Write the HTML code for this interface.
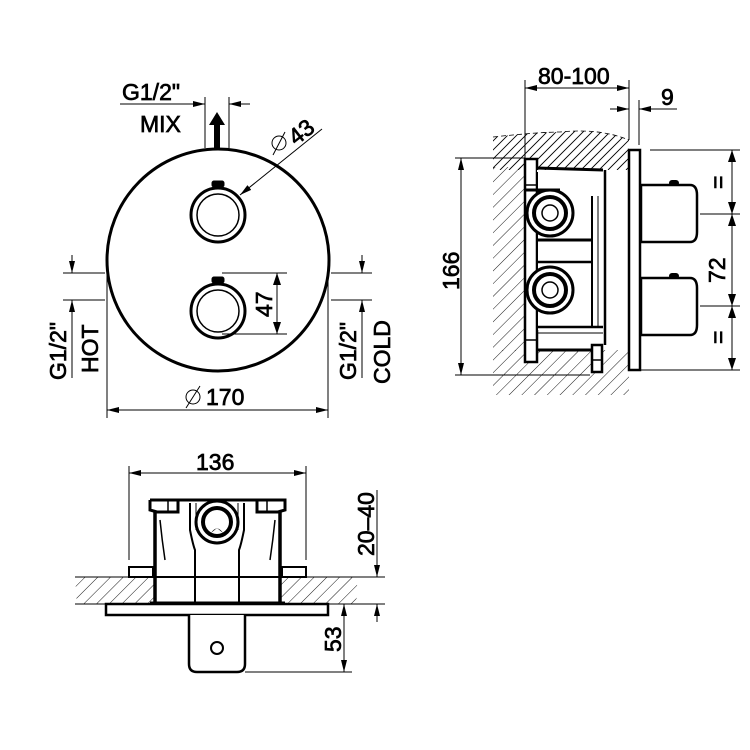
<!DOCTYPE html>
<html><head><meta charset="utf-8"><style>
html,body{margin:0;padding:0;background:#fff;}
svg{display:block}
text{font-family:"Liberation Sans",Arial,sans-serif;font-size:23px;fill:#000;stroke:#000;stroke-width:0.7px;}
</style></head><body>
<svg width="750" height="750" viewBox="0 0 750 750" xmlns="http://www.w3.org/2000/svg">
<defs>
<pattern id="h" patternUnits="userSpaceOnUse" width="9" height="9" patternTransform="rotate(45)">
<line x1="0" y1="0" x2="0" y2="9" stroke="#000" stroke-width="0.9"/>
</pattern>
<clipPath id="tb"><path d="M493,137 Q540,132 560,132 Q600,128 629,140 L629,170 L493,170 Z"/></clipPath>
<marker id="a" markerWidth="12" markerHeight="8" refX="12" refY="4" orient="auto" markerUnits="userSpaceOnUse">
<path d="M0,1 L12,4 L0,7 Z" fill="#000"/></marker>
</defs>

<!-- ============ FRONT VIEW ============ -->
<g fill="none" stroke="#000">
<circle cx="218" cy="260" r="111" stroke-width="3"/>
<circle cx="218" cy="215" r="27" stroke-width="3"/>
<circle cx="218" cy="215" r="21" stroke-width="1.5"/>
<rect x="212" y="181" width="12" height="6" rx="2" fill="#000"/>
<circle cx="218" cy="311" r="27" stroke-width="3"/>
<circle cx="218" cy="311" r="21" stroke-width="1.5"/>
<rect x="212" y="277" width="12" height="6" rx="2" fill="#000"/>
<g stroke-width="1">
<line x1="205" y1="97" x2="205" y2="148"/>
<line x1="229" y1="97" x2="229" y2="148"/>
<line x1="120" y1="104" x2="205" y2="104" marker-end="url(#a)"/>
<line x1="250" y1="104" x2="229" y2="104" marker-end="url(#a)"/>
<line x1="322" y1="129" x2="240" y2="195" marker-end="url(#a)"/>
<line x1="222" y1="273" x2="287" y2="273"/>
<line x1="222" y1="334" x2="287" y2="334"/>
<line x1="277" y1="273" x2="277" y2="334"/>
<line x1="63" y1="273" x2="105" y2="273"/>
<line x1="63" y1="300" x2="105" y2="300"/>
<line x1="72" y1="255" x2="72" y2="273" marker-end="url(#a)"/>
<line x1="72" y1="378" x2="72" y2="300" marker-end="url(#a)"/>
<line x1="331" y1="273" x2="372" y2="273"/>
<line x1="331" y1="300" x2="372" y2="300"/>
<line x1="362" y1="255" x2="362" y2="273" marker-end="url(#a)"/>
<line x1="362" y1="378" x2="362" y2="300" marker-end="url(#a)"/>
<line x1="107" y1="262" x2="107" y2="418"/>
<line x1="328" y1="262" x2="328" y2="418"/>
<line x1="128" y1="410" x2="107" y2="410" marker-end="url(#a)"/>
<line x1="128" y1="410" x2="307" y2="410"/>
<line x1="307" y1="410" x2="328" y2="410" marker-end="url(#a)"/>
<line x1="186" y1="408" x2="200" y2="386"/>
<line x1="273" y1="155" x2="285" y2="132"/>
</g>
</g>
<path d="M277,273 L273,285 L281,285Z M277,334 L273,322 L281,322Z" fill="#000"/>
<circle cx="193" cy="397" r="7" fill="none" stroke="#000" stroke-width="1"/>
<circle cx="279" cy="143" r="7" fill="none" stroke="#000" stroke-width="1"/>
<path d="M214,148 L214,125 L209,125 L217,112 L225,125 L220,125 L220,148Z" fill="#000"/>
<text x="122" y="100">G1/2"</text>
<text x="140" y="132">MIX</text>
<text x="0" y="0" transform="translate(296,146) rotate(-38)">43</text>
<text x="0" y="0" transform="translate(272,317) rotate(-90)">47</text>
<text x="206" y="405">170</text>
<text x="0" y="0" transform="translate(66,380) rotate(-90)">G1/2"</text>
<text x="0" y="0" transform="translate(98,373) rotate(-90)">HOT</text>
<text x="0" y="0" transform="translate(356,380) rotate(-90)">G1/2"</text>
<text x="0" y="0" transform="translate(390,384) rotate(-90)">COLD</text>

<!-- ============ SIDE VIEW ============ -->
<g clip-path="url(#tb)" stroke="#000" stroke-width="0.9">
<path d="M455,170 l45,-45 M464,170 l45,-45 M473,170 l45,-45 M482,170 l45,-45 M491,170 l45,-45 M500,170 l45,-45 M509,170 l45,-45 M518,170 l45,-45 M527,170 l45,-45 M536,170 l45,-45 M545,170 l45,-45 M554,170 l45,-45 M563,170 l45,-45 M572,170 l45,-45 M581,170 l45,-45 M590,170 l45,-45 M599,170 l45,-45 M608,170 l45,-45 M617,170 l45,-45 M626,170 l45,-45"/>
</g>
<rect x="493" y="167" width="44" height="184" fill="url(#h)"/>
<rect x="493" y="350" width="136" height="45" fill="url(#h)"/>
<path d="M493,137 Q540,132 560,132 Q600,128 629,140" fill="none" stroke="#000" stroke-width="0.8" stroke-dasharray="5,3"/>
<g fill="#fff" stroke="#000" stroke-width="2.5">
<rect x="629" y="150" width="11" height="220"/>
<rect x="525" y="159" width="12" height="203"/>
<rect x="537" y="170" width="66" height="160" stroke="none"/>
<rect x="592" y="345" width="10" height="27"/>
<path d="M641,185 L690,185 Q697,185 697,195 L697,232 Q697,242 690,242 L641,242Z"/>
<path d="M641,278 L690,278 Q697,278 697,288 L697,325 Q697,335 690,335 L641,335Z"/>
</g>
<g fill="none" stroke="#000">
<path d="M537,168 L603,170" stroke-width="3"/>
<line x1="525" y1="190" x2="560" y2="190" stroke-width="3"/>
<line x1="537" y1="240" x2="592" y2="240" stroke-width="3"/>
<line x1="537" y1="262" x2="592" y2="262" stroke-width="2.5"/>
<line x1="537" y1="327" x2="603" y2="327" stroke-width="2.5"/>
<line x1="537" y1="333" x2="603" y2="333" stroke-width="1"/>
<line x1="537" y1="350" x2="592" y2="350" stroke-width="3"/>
<line x1="592" y1="196" x2="592" y2="327" stroke-width="2"/>
<line x1="598" y1="196" x2="598" y2="327" stroke-width="1"/>
<line x1="605" y1="170" x2="605" y2="345" stroke-width="2.5"/>
<line x1="537" y1="172" x2="537" y2="350" stroke-width="2"/>
<line x1="525" y1="185" x2="537" y2="185" stroke-width="1.5"/>
<line x1="525" y1="340" x2="537" y2="340" stroke-width="1.5"/>
<line x1="592" y1="360" x2="602" y2="360" stroke-width="1.5"/>
<circle cx="550" cy="213" r="23" fill="#fff" stroke-width="3"/>
<circle cx="550" cy="213" r="16" stroke-width="4"/>
<circle cx="550" cy="213" r="8" stroke-width="1.5"/>
<circle cx="550" cy="290" r="23" fill="#fff" stroke-width="3"/>
<circle cx="550" cy="290" r="16" stroke-width="4"/>
<circle cx="550" cy="290" r="8" stroke-width="1.5"/>
</g>
<rect x="669" y="180" width="10" height="6" rx="3" fill="#000"/>
<rect x="669" y="273" width="10" height="6" rx="3" fill="#000"/>
<g stroke="#000" stroke-width="1" fill="none">
<line x1="525" y1="80" x2="525" y2="159"/>
<line x1="629" y1="80" x2="629" y2="140"/>
<line x1="545" y1="88" x2="525" y2="88" marker-end="url(#a)"/>
<line x1="545" y1="88" x2="609" y2="88"/>
<line x1="609" y1="88" x2="629" y2="88" marker-end="url(#a)"/>
<line x1="639" y1="100" x2="639" y2="145"/>
<line x1="610" y1="109" x2="629" y2="109" marker-end="url(#a)"/>
<line x1="677" y1="109" x2="639" y2="109" marker-end="url(#a)"/>
<line x1="455" y1="158" x2="525" y2="158"/>
<line x1="455" y1="375" x2="590" y2="375"/>
<line x1="461" y1="178" x2="461" y2="158" marker-end="url(#a)"/>
<line x1="461" y1="178" x2="461" y2="355"/>
<line x1="461" y1="355" x2="461" y2="375" marker-end="url(#a)"/>
<line x1="650" y1="150" x2="740" y2="150"/>
<line x1="700" y1="214" x2="740" y2="214"/>
<line x1="700" y1="306" x2="740" y2="306"/>
<line x1="641" y1="370" x2="740" y2="370"/>
<line x1="732" y1="150" x2="732" y2="370"/>
</g>
<path d="M732,150 L728,162 L736,162Z M732,214 L728,202 L736,202Z M732,214 L728,226 L736,226Z M732,306 L728,294 L736,294Z M732,306 L728,318 L736,318Z M732,370 L728,358 L736,358Z" fill="#000"/>
<text x="538" y="84">80-100</text>
<text x="661" y="105">9</text>
<text x="0" y="0" transform="translate(459,290) rotate(-90)">166</text>
<text x="0" y="0" transform="translate(725,283) rotate(-90)">72</text>
<text x="0" y="0" transform="translate(726,189) rotate(-90)">=</text>
<text x="0" y="0" transform="translate(726,344) rotate(-90)">=</text>

<!-- ============ TOP VIEW ============ -->
<path d="M78,577 L155,577 L155,604 L78,604 Q73,590 78,577Z M280,577 L355,577 Q360,590 355,604 L280,604Z" fill="url(#h)" stroke="none"/>
<g stroke="#000" fill="none">
<line x1="75" y1="577" x2="358" y2="577" stroke-width="1"/>
<line x1="75" y1="604" x2="358" y2="604" stroke-width="1"/>
<path d="M150,500 L285,500 L285,510 L278,512 L257,512 L257,500 M150,500 L150,510 L157,512 L178,512 L178,500" stroke-width="3"/>
<line x1="168" y1="500" x2="168" y2="512" stroke-width="1.5"/>
<line x1="267" y1="500" x2="267" y2="512" stroke-width="1.5"/>
<path d="M155,512 L155,603 M280,512 L280,603" stroke-width="3.5"/>
<path d="M160,520 Q162,540 165,560 M275,520 Q273,540 270,560" stroke-width="1.5"/>
<path d="M190,503 L190,530 Q193,545 195,550 L195,603 M244,503 L244,530 Q241,545 239,550 L239,603" stroke-width="2"/>
<path d="M196,503 L196,530 M238,503 L238,530" stroke-width="1"/>
<rect x="129" y="567" width="24" height="10" stroke-width="2"/>
<rect x="282" y="567" width="24" height="10" stroke-width="2"/>
<line x1="155" y1="577" x2="280" y2="577" stroke-width="2"/>
<line x1="150" y1="603" x2="285" y2="603" stroke-width="3"/>
<rect x="106" y="604" width="222" height="11" fill="#fff" stroke-width="2.5"/>
<path d="M189,615 L189,664 Q189,672 197,672 L237,672 Q245,672 245,664 L245,615" fill="#fff" stroke-width="2.5"/>
<circle cx="217" cy="648" r="6" stroke-width="2"/>
<circle cx="217" cy="522" r="21" fill="#fff" stroke-width="3"/>
<circle cx="217" cy="522" r="14" stroke-width="4"/>
<g stroke-width="1">
<line x1="129" y1="466" x2="129" y2="560"/>
<line x1="306" y1="466" x2="306" y2="560"/>
<line x1="150" y1="473" x2="129" y2="473" marker-end="url(#a)"/>
<line x1="150" y1="473" x2="285" y2="473"/>
<line x1="285" y1="473" x2="306" y2="473" marker-end="url(#a)"/>
<line x1="358" y1="577" x2="385" y2="577"/>
<line x1="328" y1="604" x2="385" y2="604"/>
<line x1="377" y1="490" x2="377" y2="577" marker-end="url(#a)"/>
<line x1="377" y1="622" x2="377" y2="604" marker-end="url(#a)"/>
<line x1="245" y1="672" x2="352" y2="672"/>
<line x1="344" y1="624" x2="344" y2="604" marker-end="url(#a)"/>
<line x1="344" y1="624" x2="344" y2="652"/>
<line x1="344" y1="652" x2="344" y2="672" marker-end="url(#a)"/>
</g>
</g>
<path d="M217,528 L211,533 Q217,524 223,533Z" fill="#000"/>
<text x="196" y="470">136</text>
<text x="0" y="0" transform="translate(374,556) rotate(-90)">20–40</text>
<text x="0" y="0" transform="translate(341,652) rotate(-90)">53</text>
</svg>
</body></html>
